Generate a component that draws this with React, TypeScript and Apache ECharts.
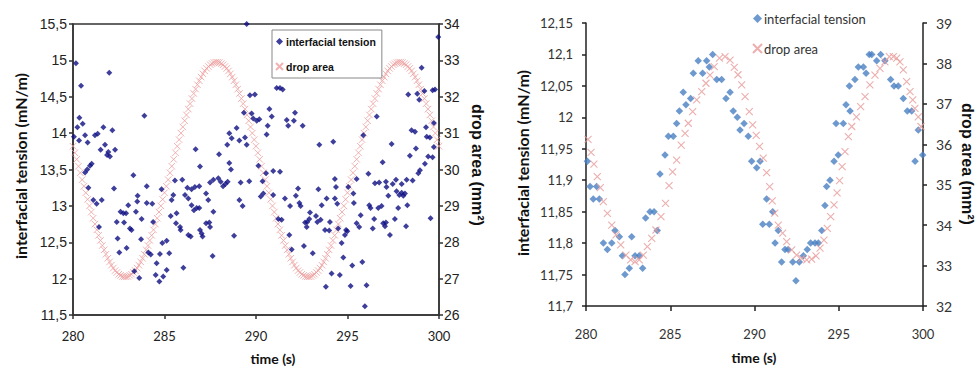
import React, { useEffect, useRef } from "react";
import * as echarts from "echarts";

// ---------- data ----------
const X_TICKS = [280, 285, 290, 295, 300];

// Left chart: interfacial tension (mN/m) [time s, value]
const tensionLeft: [number, number][] = [
  [280.16,14.96],[280.44,14.65],[280.05,13.95],[280.24,14.08],[280.35,14.21],[280.53,14.13],[280.33,13.9],[280.66,13.97],[280.8,13.87],[281.2,13.97],
  [281.35,13.99],[281.66,14.08],[281.51,13.77],[281.75,13.84],[281.86,13.7],[281.93,13.74],[282.02,13.68],[282.15,14.04],[282.3,13.77],[281.98,14.83],
  [280.66,13.46],[280.78,13.5],[280.93,13.55],[281.02,13.58],[283.3,13.42],[283.9,14.24],[280.84,13.25],[284.03,13.27],[282.24,13.24],[284.84,13.23],
  [285.57,13.35],[285.97,13.36],[286.25,13.25],[286.48,13.23],[286.7,13.78],[286.94,13.54],[287.49,13.32],[287.67,13.36],[287.98,13.71],[287.94,13.38],
  [288.07,13.33],[288.2,13.27],[288.33,13.3],[288.45,13.33],[288.63,13.5],[288.54,13.59],[288.54,14.0],[288.67,13.93],[288.94,14.07],[289.09,13.9],
  [288.43,13.84],[289.16,13.32],[289.4,13.94],[289.49,13.84],[289.34,14.28],[289.49,15.5],
  [289.67,14.52],[289.94,14.53],[289.76,14.27],[289.85,14.2],[290.04,14.17],[290.18,14.19],[290.13,13.55],[289.63,13.34],[290.36,13.34],[290.55,13.45],
  [290.73,14.33],[290.86,14.23],[290.58,13.98],[290.64,14.1],[290.94,13.48],[291.31,13.47],[291.13,14.62],[291.31,14.62],[291.46,14.6],[291.68,14.18],
  [291.76,14.1],[292.07,14.17],[292.13,14.28],[292.55,14.1],[292.3,13.24],[293.46,13.84],[293.41,13.23],[294.22,13.88],[294.31,13.37],[295.04,13.26],
  [295.5,13.37],[295.86,13.97],[296.14,13.44],[296.6,14.23],[296.5,13.31],[296.73,13.32],[297.1,13.33],[296.92,13.6],[297.41,13.85],[297.13,13.26],
  [297.47,13.3],[297.65,13.36],[297.96,13.3],[298.23,13.36],[298.41,13.69],[298.32,14.53],[298.5,14.04],[298.69,14.02],[298.74,13.79],[299.05,14.9],
  [298.81,14.54],[298.92,14.46],[298.96,13.49],[298.87,13.45],[299.29,14.08],[299.33,13.95],[299.23,13.58],[299.41,13.68],[299.65,13.67],[299.5,13.94],
  [299.72,13.81],[299.2,14.58],[299.65,14.59],[299.78,14.6],[299.96,15.32],[299.72,14.14],[298.56,13.35],
  [281.11,13.08],[281.29,13.03],[281.57,13.08],[281.42,12.71],[282.39,12.78],[282.6,12.92],[282.75,12.9],[282.9,12.9],[282.44,12.55],[282.53,12.36],
  [282.93,12.42],[282.79,12.77],[283.02,13.01],[283.11,12.69],[283.2,12.67],[283.44,12.92],[283.53,13.14],[283.51,13.06],[283.75,12.82],[283.72,12.54],
  [283.35,12.1],[283.62,12.01],[284.03,13.04],[284.33,13.03],[284.38,12.78],[284.12,12.36],[284.25,12.33],[284.75,12.34],[284.88,12.49],[285.12,12.52],
  [284.57,12.21],[284.72,11.96],[284.93,12.03],[285.12,12.12],[284.52,12.05],[285.26,12.35],[285.39,13.08],[285.48,13.15],[285.34,12.86],[285.66,12.9],
  [285.63,12.76],[285.85,12.71],[285.88,12.67],[286.12,13.15],[286.3,13.1],[286.03,12.15],[286.3,12.6],[286.43,12.58],[286.48,13.01],[286.61,12.94],
  [286.76,12.97],[286.9,12.97],[286.66,13.26],[286.9,13.27],[286.94,12.67],[287.03,12.62],[287.08,12.58],[287.27,13.17],[287.39,13.08],[287.27,12.76],
  [287.45,12.77],[287.49,12.71],[287.67,12.92],[287.63,12.31],[288.8,12.59],[289.09,13.08],[289.27,13.0],
  [290.4,13.17],[290.26,13.13],[290.94,13.15],[291.22,12.82],[291.4,12.81],[291.58,13.1],[291.82,12.6],[291.95,12.4],[291.86,13.0],[292.18,13.14],
  [292.37,13.04],[292.44,13.0],[292.62,12.45],[292.68,12.77],[292.77,12.71],[292.8,12.78],[292.95,12.91],[293.1,12.35],[292.91,12.82],[293.28,12.86],
  [293.35,12.78],[293.53,12.81],[293.59,13.01],[293.86,13.1],[293.77,12.67],[294.0,12.66],[294.04,12.78],[294.13,12.07],[293.82,11.89],[294.31,13.1],
  [294.44,13.03],[294.37,13.26],[294.58,12.05],[294.49,12.69],[294.68,12.49],[294.77,12.29],[294.86,12.6],[294.92,12.67],[294.99,12.65],[295.35,13.04],
  [295.17,11.9],[295.26,12.18],[295.5,12.76],[295.64,12.71],[295.72,12.87],[295.32,13.17],[295.81,12.23],[295.95,11.62],[296.04,11.91],[296.19,13.01],
  [296.26,12.97],[296.38,12.69],[296.46,12.82],[296.68,12.97],[296.86,13.0],[296.95,12.76],[297.05,12.72],[297.1,12.77],[297.32,12.6],[297.23,13.14],
  [297.59,12.82],[297.68,13.2],[297.83,13.15],[297.96,13.18],[298.05,13.14],[298.14,13.17],[297.77,12.97],[298.27,13.01],[298.2,12.72],[299.54,12.83]
];

// Left chart: drop area (mm²), sampled every 0.1 s from 280 s
const DROP_LEFT_START = 280;
const DROP_LEFT_STEP = 0.1;
const dropAreaLeft: number[] = [
  30.64,30.46,30.28,30.09,29.91,29.72,29.54,29.36,29.18,29.00,
  28.83,28.66,28.50,28.34,28.19,28.05,27.91,27.79,27.67,27.56,
  27.46,27.37,27.29,27.22,27.17,27.12,27.09,27.06,27.05,27.05,
  27.06,27.09,27.12,27.17,27.22,27.29,27.37,27.46,27.56,27.67,
  27.79,27.91,28.05,28.19,28.34,28.50,28.66,28.83,29.00,29.18,
  29.36,29.54,29.72,29.91,30.09,30.28,30.46,30.64,30.82,31.00,
  31.17,31.34,31.50,31.66,31.81,31.95,32.09,32.21,32.33,32.44,
  32.54,32.63,32.71,32.78,32.83,32.88,32.91,32.94,32.95,32.95,
  32.94,32.91,32.88,32.83,32.78,32.71,32.63,32.54,32.44,32.33,
  32.21,32.09,31.95,31.81,31.66,31.50,31.34,31.17,31.00,30.82,
  30.64,30.46,30.28,30.09,29.91,29.72,29.54,29.36,29.18,29.00,
  28.83,28.66,28.50,28.34,28.19,28.05,27.91,27.79,27.67,27.56,
  27.46,27.37,27.29,27.22,27.17,27.12,27.09,27.06,27.05,27.05,
  27.06,27.09,27.12,27.17,27.22,27.29,27.37,27.46,27.56,27.67,
  27.79,27.91,28.05,28.19,28.34,28.50,28.66,28.83,29.00,29.18,
  29.36,29.54,29.72,29.91,30.09,30.28,30.46,30.64,30.82,31.00,
  31.17,31.34,31.50,31.66,31.81,31.95,32.09,32.21,32.33,32.44,
  32.54,32.63,32.71,32.78,32.83,32.88,32.91,32.94,32.95,32.95,
  32.94,32.91,32.88,32.83,32.78,32.71,32.63,32.54,32.44,32.33,
  32.21,32.09,31.95,31.81,31.66,31.50,31.34,31.17,31.00,30.82,
  30.64
];

// Right chart: interfacial tension (mN/m)
const tensionRight: [number, number][] = [
  [280.08,11.93],[280.24,11.89],[280.63,11.89],[280.43,11.87],[280.79,11.87],[281.03,11.80],[281.27,11.79],[281.53,11.80],[281.72,11.82],[281.98,11.81],
  [282.16,11.78],[282.31,11.75],[282.57,11.76],[282.71,11.81],[282.91,11.78],[283.16,11.78],[283.36,11.76],[283.54,11.84],[283.8,11.85],[284.04,11.85],
  [284.23,11.82],[284.39,11.91],[284.69,11.94],[284.89,11.97],[285.18,11.97],[285.38,11.99],[285.54,12.01],[285.77,12.04],[285.93,12.02],[286.21,12.03],
  [286.37,12.07],[286.66,12.09],[286.92,12.07],[287.16,12.09],[287.32,12.08],[287.52,12.10],[287.76,12.06],[288.05,12.06],[288.31,12.03],[288.55,12.04],
  [288.74,12.01],[288.98,12.0],[289.14,11.98],[289.38,11.99],[289.63,11.97],[289.83,11.93],[290.13,11.92],[290.33,11.93],[290.49,11.83],[290.72,11.87],
  [290.88,11.83],[291.08,11.85],[291.22,11.80],[291.41,11.82],[291.61,11.77],[291.81,11.79],[292.0,11.79],[292.27,11.77],[292.46,11.74],[292.66,11.77],
  [292.9,11.78],[293.13,11.79],[293.33,11.80],[293.59,11.80],[293.79,11.80],[293.99,11.82],[294.18,11.86],[294.28,11.89],[294.48,11.90],[294.72,11.93],
  [294.97,11.94],[294.84,11.99],[295.27,11.99],[295.43,12.02],[295.67,12.01],[295.63,12.05],[295.96,12.06],[296.16,12.08],[296.46,12.08],[296.62,12.07],
  [296.81,12.10],[296.96,12.10],[297.25,12.09],[297.49,12.10],[297.74,12.09],[298.08,12.06],[298.28,12.05],[298.53,12.05],[298.83,12.03],[299.07,12.01],
  [299.33,12.01],[299.72,11.98],[299.53,11.93],[299.98,11.94]
];

// Right chart: drop area (mm²)
const dropAreaRight: [number, number][] = [
  [280.12,36.12],[280.3,35.8],[280.47,35.51],[280.67,35.2],[280.85,34.93],[281.03,34.58],[281.27,34.29],[281.53,34.0],[281.78,33.76],[282.06,33.51],
  [282.37,33.26],[282.65,33.14],[282.91,33.1],[283.16,33.14],[283.4,33.26],[283.64,33.47],[283.9,33.67],[284.15,33.88],[284.45,34.21],[284.72,34.54],
  [284.93,34.98],[285.14,35.32],[285.38,35.61],[285.65,35.98],[285.88,36.27],[286.07,36.52],[286.33,36.81],[286.57,37.1],[286.87,37.3],[287.12,37.51],
  [287.36,37.71],[287.61,37.92],[287.92,38.13],[288.25,38.17],[288.55,38.08],[288.8,37.9],[289.02,37.72],[289.24,37.47],[289.44,37.18],[289.69,36.81],
  [289.89,36.48],[290.1,36.22],[290.3,35.95],[290.52,35.66],[290.72,35.3],[290.9,34.95],[291.05,34.6],[291.2,34.3],[291.41,34.0],[291.67,33.8],
  [291.91,33.59],[292.21,33.39],[292.5,33.26],[292.8,33.18],[293.1,33.14],[293.39,33.16],[293.65,33.24],[293.89,33.43],[294.12,33.63],[294.32,33.92],
  [294.52,34.21],[294.72,34.5],[294.9,34.8],[295.05,35.1],[295.2,35.45],[295.37,35.82],[295.57,36.19],[295.77,36.44],[296.05,36.68],[296.3,36.93],
  [296.56,37.18],[296.85,37.47],[297.15,37.71],[297.45,37.88],[297.74,38.04],[298.0,38.17],[298.24,38.17],[298.44,38.13],[298.63,38.04],[298.83,37.84],
  [299.03,37.55],[299.23,37.3],[299.39,37.1],[299.52,36.89],[299.72,36.68],[299.88,36.44]
];

const SERIES_NAMES = ["interfacial tension", "drop area"];
const X_NAME = "time (s)";
const Y_NAME = "interfacial tension (mN/m)";
const Y2_NAME = "drop area (mm²)";

// ---------- styles ----------
const DIAMOND = "path://M5,0L10,5L5,10L0,5Z";
const CROSS = "path://M0,0L10,10M10,0L0,10";
const comma = (v: number) => String(v).replace(".", ",");

function leftOption(): any {
  const axisCol = "#333";
  return {
    animation: false,
    backgroundColor: "#fff",
    grid: { left: 73, top: 24, width: 366, height: 291, show: true, borderColor: axisCol, borderWidth: 1.5, backgroundColor: "transparent" },
    legend: {
      data: SERIES_NAMES,
      orient: "vertical",
      left: 272,
      top: 30,
      width: 102,
      backgroundColor: "#fff",
      borderColor: "#888",
      borderWidth: 1,
      padding: [6, 6, 6, 3],
      itemGap: 14,
      itemWidth: 9,
      itemHeight: 7,
      textStyle: { fontFamily: "Liberation Sans", fontWeight: "bold", fontSize: 10.5, color: "#111", padding: [0, 0, 0, -3] },
    },
    xAxis: {
      type: "value", min: X_TICKS[0], max: X_TICKS[X_TICKS.length - 1], interval: 5,
      axisLine: { show: true, lineStyle: { color: axisCol, width: 1.5 } },
      axisTick: { show: true, inside: false, length: 4, lineStyle: { color: axisCol, width: 1.5 } },
      axisLabel: { margin: 14, fontFamily: "Lato", fontSize: 13, color: "#222" },
      splitLine: { show: false },
    },
    yAxis: [
      {
        type: "value", min: 11.5, max: 15.5, interval: 0.5, position: "left",
        axisLine: { show: true, lineStyle: { color: axisCol, width: 1.5 } },
        axisTick: { show: true, inside: false, length: 4, lineStyle: { color: axisCol, width: 1.5 } },
        axisLabel: { margin: 6, fontFamily: "Liberation Sans", fontSize: 14, color: "#222", formatter: comma },
        splitLine: { show: false },
      },
      {
        type: "value", min: 26, max: 34, interval: 1, position: "right",
        axisLine: { show: true, lineStyle: { color: axisCol, width: 1.5 } },
        axisTick: { show: true, inside: false, length: 4, lineStyle: { color: axisCol, width: 1.5 } },
        axisLabel: { margin: 5, fontFamily: "Liberation Sans", fontSize: 14, color: "#222" },
        splitLine: { show: false },
      },
    ],
    series: [
      {
        name: SERIES_NAMES[1], type: "scatter", yAxisIndex: 1,
        symbol: CROSS, symbolSize: 6.5,
        itemStyle: { color: "transparent", borderColor: "#ee9f9f", borderWidth: 1 },
        data: dropAreaLeft.map((v, i) => [DROP_LEFT_START + i * DROP_LEFT_STEP, v]),
      },
      {
        name: SERIES_NAMES[0], type: "scatter", yAxisIndex: 0,
        symbol: DIAMOND, symbolSize: 6,
        itemStyle: { color: "#0e0e82" },
        data: tensionLeft,
      },
    ],
    graphic: [
      { type: "text", x: 20, y: 166, rotation: Math.PI / 2, style: { text: Y_NAME, fontFamily: "Lato", fontWeight: "bold", fontSize: 16, fill: "#111", textAlign: "center", textVerticalAlign: "middle" } },
      { type: "text", x: 477, y: 165, rotation: -Math.PI / 2, style: { text: Y2_NAME, fontFamily: "Liberation Sans", fontWeight: "bold", fontSize: 16, fill: "#111", textAlign: "center", textVerticalAlign: "middle" } },
      { type: "text", x: 273, y: 358, style: { text: X_NAME, fontFamily: "Lato", fontWeight: "bold", fontSize: 14, fill: "#111", textAlign: "center", textVerticalAlign: "middle" } },
    ],
  };
}

function rightOption(): any {
  const axisCol = "#222";
  return {
    animation: false,
    backgroundColor: "#fff",
    grid: { left: 86, top: 23, width: 337, height: 283 },
    legend: {
      data: SERIES_NAMES,
      orient: "vertical",
      left: 252,
      top: 12,
      padding: 0,
      itemGap: 17,
      itemWidth: 9,
      itemHeight: 14,
      textStyle: { fontFamily: "Lato", fontSize: 13, color: "#333", padding: [0, 0, 0, -3] },
    },
    xAxis: {
      type: "value", min: X_TICKS[0], max: X_TICKS[X_TICKS.length - 1], interval: 5,
      axisLine: { show: true, lineStyle: { color: axisCol, width: 1.5 } },
      axisTick: { show: true, inside: false, length: 5, lineStyle: { color: axisCol, width: 1.5 } },
      axisLabel: { margin: 21, fontFamily: "Lato", fontSize: 13, color: "#333" },
      splitLine: { show: false },
    },
    yAxis: [
      {
        type: "value", min: 11.7, max: 12.15, interval: 0.05, position: "left",
        axisLine: { show: true, lineStyle: { color: axisCol, width: 1.5 } },
        axisTick: { show: true, inside: false, length: 4, lineStyle: { color: axisCol, width: 1.5 } },
        axisLabel: { margin: 13, fontFamily: "Lato", fontSize: 13, color: "#333", formatter: comma },
        splitLine: { show: false },
      },
      {
        type: "value", min: 32, max: 39, interval: 1, position: "right",
        axisLine: { show: true, lineStyle: { color: axisCol, width: 1.5 } },
        axisTick: { show: true, inside: false, length: 4, lineStyle: { color: axisCol, width: 1.5 } },
        axisLabel: { margin: 13, fontFamily: "Lato", fontSize: 14, color: "#333" },
        splitLine: { show: false },
      },
    ],
    series: [
      {
        name: SERIES_NAMES[0], type: "scatter", yAxisIndex: 0,
        symbol: DIAMOND, symbolSize: 7.5,
        itemStyle: { color: "#4a7fc3" },
        data: tensionRight,
      },
      {
        name: SERIES_NAMES[1], type: "scatter", yAxisIndex: 1,
        symbol: CROSS, symbolSize: 7,
        itemStyle: { color: "transparent", borderColor: "#e79a9a", borderWidth: 1.1 },
        data: dropAreaRight,
      },
    ],
    graphic: [
      { type: "text", x: 22, y: 163, rotation: Math.PI / 2, style: { text: Y_NAME, fontFamily: "Lato", fontWeight: "bold", fontSize: 16, fill: "#111", textAlign: "center", textVerticalAlign: "middle" } },
      { type: "text", x: 467, y: 164, rotation: -Math.PI / 2, style: { text: Y2_NAME, fontFamily: "Liberation Sans", fontWeight: "bold", fontSize: 16, fill: "#111", textAlign: "center", textVerticalAlign: "middle" } },
      { type: "text", x: 254, y: 357, style: { text: X_NAME, fontFamily: "Lato", fontWeight: "bold", fontSize: 14, fill: "#111", textAlign: "center", textVerticalAlign: "middle" } },
    ],
  };
}

export default function App() {
  const leftRef = useRef<HTMLDivElement>(null);
  const rightRef = useRef<HTMLDivElement>(null);

  useEffect(() => {
    const l = echarts.init(leftRef.current!, undefined, { renderer: "svg" });
    const r = echarts.init(rightRef.current!, undefined, { renderer: "svg" });
    l.setOption(leftOption());
    r.setOption(rightOption());
    return () => {
      l.dispose();
      r.dispose();
    };
  }, []);

  return (
    <div style={{ position: "fixed", left: 0, top: 0, width: 977, height: 369, background: "#fff" }}>
      <div ref={leftRef} style={{ position: "absolute", left: 0, top: 0, width: 500, height: 369 }} />
      <div ref={rightRef} style={{ position: "absolute", left: 500, top: 0, width: 477, height: 369 }} />
    </div>
  );
}
